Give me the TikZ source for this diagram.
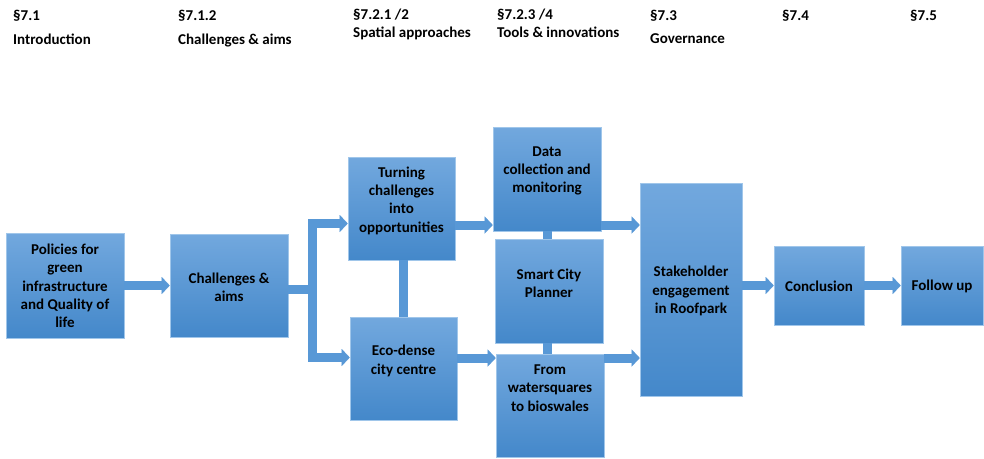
\documentclass[tikz,border=0pt]{standalone}
\usepackage{fontspec}
\setmainfont{Carlito}
\usetikzlibrary{arrows.meta}
\definecolor{boxtop}{RGB}{114,168,222}
\definecolor{boxbot}{RGB}{68,136,202}
\definecolor{boxedge}{RGB}{160,198,234}
\definecolor{arrowblue}{RGB}{88,152,214}

\begin{document}
\begin{tikzpicture}[x=1pt, y=-1pt,
    box/.style={rectangle, draw=boxedge, line width=0.6pt, top color=boxtop, bottom color=boxbot, inner sep=0pt},
    txt/.style={align=center, inner sep=0pt, font=\fontsize{15}{18.3}\selectfont\bfseries},
    head/.style={anchor=base west, inner sep=0pt, font=\fontsize{15}{18}\selectfont\bfseries},
    arrow/.style={draw=arrowblue, line width=9pt, -{Triangle[width=17pt, length=8pt, line width=0.01pt]}},
    bar/.style={draw=arrowblue, line width=9pt},
]
\useasboundingbox (0,0) rectangle (984,458);

% section headings
\node[head] (h1)  at (13, 20)  {§7.1};
\node[head] (h2)  at (178, 20) {§7.1.2};
\node[head] (h3)  at (353, 19) {§7.2.1 /2};
\node[head] (h4)  at (497, 19) {§7.2.3 /4};
\node[head] (h5)  at (650, 20) {§7.3};
\node[head] (h6)  at (782, 20) {§7.4};
\node[head] (h7)  at (910, 20) {§7.5};

\node[head] (t1)  at (13, 44)  {Introduction};
\node[head] (t2)  at (178, 44) {Challenges \& aims};
\node[head] (t3)  at (353, 37) {Spatial approaches};
\node[head] (t4)  at (497, 37) {Tools \& innovations};
\node[head] (t5)  at (650, 43) {Governance};

% boxes
\node[box, minimum width=118pt, minimum height=105pt] (pol)    at (65, 285.5)  {};
\node[box, minimum width=118pt, minimum height=103pt] (chal)   at (229, 285.5) {};
\node[box, minimum width=107pt, minimum height=103pt] (turn)   at (401.5, 208.5) {};
\node[box, minimum width=107pt, minimum height=103pt] (eco)    at (403.5, 368.5) {};
\node[box, minimum width=108pt, minimum height=104pt] (data)   at (547, 179)   {};
\node[box, minimum width=108pt, minimum height=104pt] (smart)  at (549, 291)   {};
\node[box, minimum width=108pt, minimum height=103pt] (from)   at (550, 405.5) {};
\node[box, minimum width=102pt, minimum height=213pt] (stake)  at (691, 289.5) {};
\node[box, minimum width=90pt,  minimum height=79pt]  (concl)  at (819, 285.5) {};
\node[box, minimum width=82pt,  minimum height=79pt]  (follow) at (942, 285.5) {};

% texts in the boxes
\node[txt] (pol-t)    at (65, 286)    {Policies for\\green\\infrastructure\\and Quality of\\life};
\node[txt] (chal-t)   at (229, 287)   {Challenges \&\\aims};
\node[txt] (turn-t)   at (401.5, 200.5) {Turning\\challenges\\into\\opportunities};
\node[txt] (eco-t)    at (403.5, 361) {Eco-dense\\city centre};
\node[txt] (data-t)   at (547, 171)   {Data\\collection and\\monitoring};
\node[txt] (smart-t)  at (549, 283.5) {Smart City\\Planner};
\node[txt] (from-t)   at (550, 388)   {From\\watersquares\\to bioswales};
\node[txt] (stake-t)  at (691, 291)   {Stakeholder\\engagement\\in Roofpark};
\node[txt] (concl-t)  at (819, 286)   {Conclusion};
\node[txt] (follow-t) at (942, 286)   {Follow up};

% rows of the arrows and the split
\coordinate (rowA)   at (0, 225);
\coordinate (rowB)   at (0, 358);
\coordinate (split)  at (312.5, 289);
\coordinate (splitT) at (312.5, 223.5);
\coordinate (splitB) at (312.5, 357.5);

% connectors
\draw[arrow] (pol) -- (chal);
\draw[bar] (chal.east |- split) -- (split);
\draw[bar, line cap=rect] (splitT) -- (splitB);
\draw[arrow] (splitT) -- (splitT -| turn.west);
\draw[arrow] (splitB) -- (splitB -| eco.west);
\draw[bar] (eco.north) -- (eco.north |- turn.south);

\draw[arrow] (turn.east |- rowA) -- (data.west |- rowA);
\draw[arrow] (eco.east |- rowB) -- (from.west |- rowB);
\draw[bar] (data.south) -- (data.south |- smart.north);
\draw[bar] (data.south |- smart.south) -- (data.south |- from.north);

\draw[arrow] (data.east |- rowA) -- (stake.west |- rowA);
\draw[arrow] (from.east |- rowB) -- (stake.west |- rowB);
\draw[arrow] (stake.east |- concl.west) -- (concl.west);
\draw[arrow] (concl) -- (follow);

\end{tikzpicture}
\end{document}
